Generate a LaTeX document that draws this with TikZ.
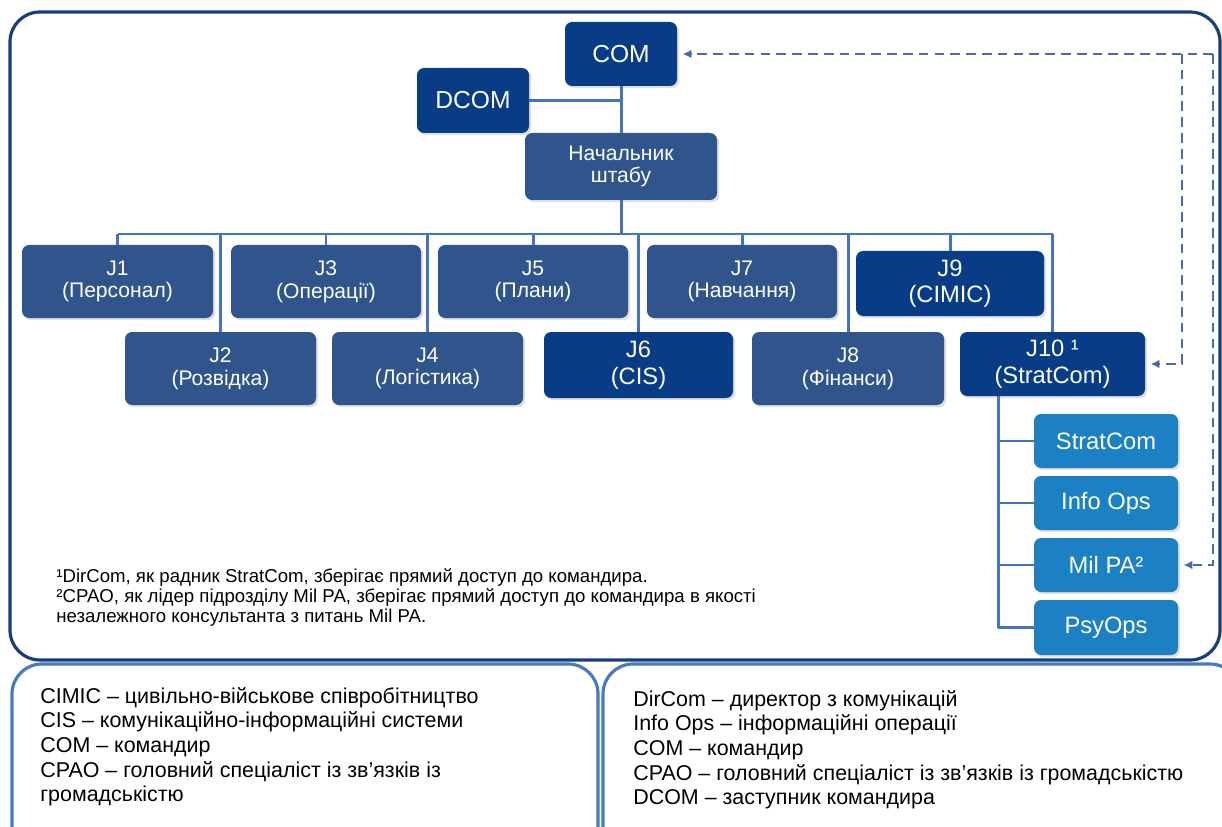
\documentclass[tikz,border=0pt]{standalone}
\usepackage{fontspec}
\setmainfont{Liberation Sans}
\usetikzlibrary{arrows.meta,shadows}
\definecolor{navy}{RGB}{8,60,135}
\definecolor{mid}{RGB}{47,85,140}
\definecolor{light}{RGB}{28,128,196}
\definecolor{conn}{RGB}{68,114,196}
\definecolor{framec}{RGB}{22,62,125}
\definecolor{legc}{RGB}{72,122,190}
\definecolor{dashc}{RGB}{70,105,175}
\tikzset{
  bx/.style={rounded corners=4pt, inner sep=0pt, text=white, align=center,
    drop shadow={opacity=0.25, shadow xshift=1.2pt, shadow yshift=-1.2pt}},
  dark/.style={bx, fill=navy, font=\fontsize{13.5}{15}\selectfont},
  midb/.style={bx, fill=mid, font=\fontsize{12}{13}\selectfont},
  lite/.style={bx, fill=light, font=\fontsize{13.5}{15}\selectfont},
  cn/.style={draw=conn, line width=1.7pt},
  dsh/.style={draw=dashc, line width=1.1pt, dash pattern=on 5.5pt off 3.5pt,
    -{Latex[length=5pt,width=5pt]}, shorten >=3pt},
  frm/.style={draw=framec, line width=1.8pt, rounded corners=17pt},
  leg/.style={draw=legc, line width=1.8pt, rounded corners=17pt},
}
\newcommand\bnode[7]{\node[#6, minimum width={(#4-#2)*0.02cm}, minimum height={(#5-#3)*0.02cm}] (#1) at ({(#2+#4)/2},{(#3+#5)/2}) {#7};}
\begin{document}
\begin{tikzpicture}[x=0.02cm,y=-0.02cm]
\useasboundingbox (0,0) rectangle (1222,827);
\fill[white] (0,0) rectangle (1222,827);
% frames
\draw[frm] (10,12) rectangle (1220,660);
\draw[leg] (12,664) rectangle (598,860);
\draw[leg] (603,664) rectangle (1240,860);
% boxes
\bnode{COM}{565}{22}{677}{86}{dark}{\fontsize{14}{16}\selectfont COM}
\bnode{DCOM}{417}{68}{529}{133}{dark}{\fontsize{14}{16}\selectfont DCOM}
\bnode{NS}{525}{133}{717}{200}{midb}{\fontsize{12}{12}\selectfont Начальник\\штабу}
\bnode{J1}{22}{245}{213}{318}{midb}{J1\\(Персонал)}
\bnode{J3}{231}{245}{421}{318}{midb}{J3\\(Операції)}
\bnode{J5}{438}{245}{628}{318}{midb}{J5\\(Плани)}
\bnode{J7}{647}{245}{837}{318}{midb}{J7\\(Навчання)}
\bnode{J9}{856}{251}{1044}{316}{dark}{J9\\(CIMIC)}
\bnode{J2}{125}{332}{316}{405}{midb}{J2\\(Розвідка)}
\bnode{J4}{332}{332}{523}{405}{midb}{J4\\(Логістика)}
\bnode{J6}{544}{332}{733}{398}{dark}{J6\\(CIS)}
\bnode{J8}{752}{332}{944}{405}{midb}{J8\\(Фінанси)}
\bnode{J10}{960}{332}{1145}{396}{dark}{J10 ¹\\(StratCom)}
\bnode{SC}{1034}{414}{1178}{468}{lite}{StratCom}
\bnode{IO}{1034}{476}{1178}{530}{lite}{Info Ops}
\bnode{MP}{1034}{538}{1178}{592}{lite}{Mil PA²}
\bnode{PO}{1034}{600}{1178}{655}{lite}{PsyOps}
% connectors
\coordinate (barL) at (117.5,234);
\coordinate (barR) at (1052.5,234);
\coordinate (tr) at (998,400);
\draw[cn] (COM.south) -- (NS.north);
\draw[cn] (DCOM.east) -- (DCOM.east -| COM.south);
\draw[cn] (NS.south) -- (NS.south |- barL);
\draw[cn] (barL) -- (barR);
\foreach \n in {J1,J2,J3,J4,J5,J6,J7,J8,J9,J10}
  \draw[cn] (\n.north) -- (\n.north |- barL);
\draw[cn] (J10.south -| tr) -- (PO.west -| tr);
\foreach \n in {SC,IO,MP,PO}
  \draw[cn] (\n.west -| tr) -- (\n.west);
% dashed links
\coordinate (dR) at (1213,54);
\coordinate (dM) at (1182,54);
\draw[dsh] (dR) -- (COM.east);
\draw[dsh] (dM) -- (dM |- J10.east) -- (J10.east);
\draw[dsh] (dR) -- (dR |- MP.east) -- (MP.east);
% footnotes
\node[anchor=north west, align=left, inner sep=0pt, font=\fontsize{10.6}{11.4}\selectfont] (fn) at (56,568)
 {¹DirCom, як радник StratCom, зберігає прямий доступ до командира.\\
  ²CPAO, як лідер підрозділу Mil PA, зберігає прямий доступ до командира в якості\\
  незалежного консультанта з питань Mil PA.};
% legends
\node[anchor=north west, align=left, inner sep=0pt, font=\fontsize{12.2}{14}\selectfont] (lg1) at (40,687)
 {CIMIC – цивільно-військове співробітництво\\
  CIS – комунікаційно-інформаційні системи\\
  COM – командир\\
  CPAO – головний спеціаліст із зв’язків із\\
  громадськістю};
\node[anchor=north west, align=left, inner sep=0pt, font=\fontsize{12.2}{14}\selectfont] (lg2) at (633,690)
 {DirCom – директор з комунікацій\\
  Info Ops – інформаційні операції\\
  COM – командир\\
  CPAO – головний спеціаліст із зв’язків із громадськістю\\
  DCOM – заступник командира};
\end{tikzpicture}
\end{document}
